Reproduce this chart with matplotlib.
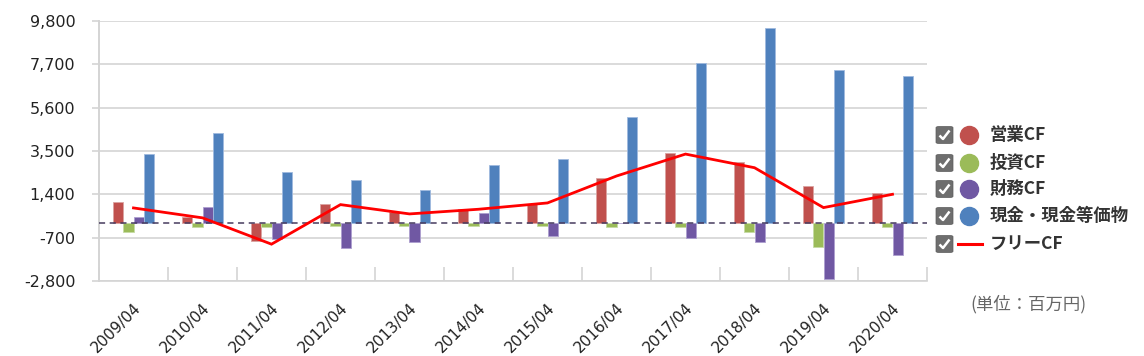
import matplotlib
matplotlib.use("Agg")
import matplotlib.pyplot as plt
import numpy as np
from matplotlib.patches import FancyBboxPatch
from matplotlib.lines import Line2D

plt.rcParams['font.family'] = ['DejaVu Sans']

categories = ["2009/04", "2010/04", "2011/04", "2012/04", "2013/04", "2014/04",
              "2015/04", "2016/04", "2017/04", "2018/04", "2019/04", "2020/04"]
operating_cf = [1047, 306, -854, 950, 548, 677, 918, 2191, 3415, 2980, 1820, 1466]
investing_cf = [-419, -193, -193, -145, -113, -129, -113, -193, -193, -419, -1144, -193]
financing_cf = [306, 805, -773, -1208, -918, 515, -628, 30, -709, -918, -2723, -1563]
cash_equiv = [3367, 4366, 2481, 2110, 1595, 2835, 3125, 5155, 7781, 9440, 7411, 7121]
free_cf = [741, 260, -1015, 902, 451, 677, 983, 2288, 3351, 2690, 757, 1402]
y_ticks = [-2800, -700, 1400, 3500, 5600, 7700, 9800]
legend_labels = ["営業CF", "投資CF", "財務CF", "現金・現金等価物", "フリーCF"]
unit_label = "(単位：百万円)"

W, H = 1144, 356
fig = plt.figure(figsize=(W / 100, H / 100), dpi=100)
ax = fig.add_axes([99 / W, 1 - 281 / H, (927 - 99) / W, (281 - 21) / H])

colors = ["#c0504d", "#9bbb59", "#7058a3", "#4f81bd"]
edges = ["#dba3a1", "#c6dba5", "#ad9fcf", "#9fbadf"]
series = [operating_cf, investing_cf, financing_cf, cash_equiv]
x = np.arange(len(categories))
bw = 0.152
for i, (vals, c, ec) in enumerate(zip(series, colors, edges)):
    ax.bar(x + (i - 1.5) * bw, vals, width=bw, color=c, edgecolor=ec,
           linewidth=0.6, zorder=3)

ax.plot(x, free_cf, color="#ff0000", lw=2.0, zorder=5, solid_joinstyle='miter')
ax.axhline(0, color="#463a5e", lw=1.1, ls=(0, (4, 3)), zorder=4)

ax.set_xlim(-0.5, len(categories) - 0.5)
ax.set_ylim(-2800, 9800)
ax.set_yticks(y_ticks)
ax.set_yticklabels([f"{v:,}" for v in y_ticks], fontsize=11.5, color="#222222")
ax.yaxis.grid(True, color="#d4d4d4", lw=1.2, zorder=0)
ax.tick_params(axis='y', length=5, color="#d4d4d4", width=1.2, pad=12)

ax.set_xticks(x)
ax.set_xticklabels(categories, rotation=45, ha='right', rotation_mode='anchor',
                   fontsize=11, color="#222222")
ax.tick_params(axis='x', which='major', length=0, pad=14)
ax.set_xticks(np.arange(-0.5, len(categories)), minor=True)
ax.tick_params(axis='x', which='minor', direction='in', length=10,
               color="#d4d4d4", width=1.2)

for s in ["top", "right"]:
    ax.spines[s].set_visible(False)
ax.spines["left"].set_color("#d4d4d4")
ax.spines["left"].set_linewidth(1.4)
ax.spines["bottom"].set_color("#d4d4d4")
ax.spines["bottom"].set_linewidth(1.2)


def fx(px):
    return px / W


def fy(py):
    return 1 - py / H


leg_y = [135, 163, 189, 216, 244]
for i, (lab, yy) in enumerate(zip(legend_labels, leg_y)):
    bx, bs = 936, 17
    fig.add_artist(FancyBboxPatch((fx(bx), fy(yy + bs / 2)), bs / W, bs / H,
                                  boxstyle="round,pad=0,rounding_size=0.003",
                                  transform=fig.transFigure, facecolor="#6e6e6e",
                                  edgecolor="#5a5a5a", lw=0.5))
    cx = bx + bs / 2
    fig.add_artist(Line2D([fx(cx - 5), fx(cx - 1.5), fx(cx + 5)],
                          [fy(yy + 0.5), fy(yy + 4), fy(yy - 4.5)],
                          transform=fig.transFigure, color="white", lw=1.8,
                          solid_capstyle='butt'))
    if i < 4:
        fig.add_artist(Line2D([fx(969)], [fy(yy)], marker='o', markersize=13,
                              markerfacecolor=colors[i], markeredgecolor=colors[i],
                              transform=fig.transFigure))
    else:
        fig.add_artist(Line2D([fx(958), fx(982)], [fy(yy), fy(yy)],
                              color="#ff0000", lw=2.2, transform=fig.transFigure))
    fig.text(fx(990), fy(yy), lab, fontsize=12.5, fontweight='bold',
             family=['Noto Sans CJK JP', 'DejaVu Sans'], va='center', ha='left',
             color="#333333")

fig.text(fx(970), fy(304), unit_label, fontsize=12.5,
         family=['Noto Sans CJK JP', 'DejaVu Sans'], va='center', ha='left',
         color="#666666")

fig.savefig("out.png", dpi=100)
